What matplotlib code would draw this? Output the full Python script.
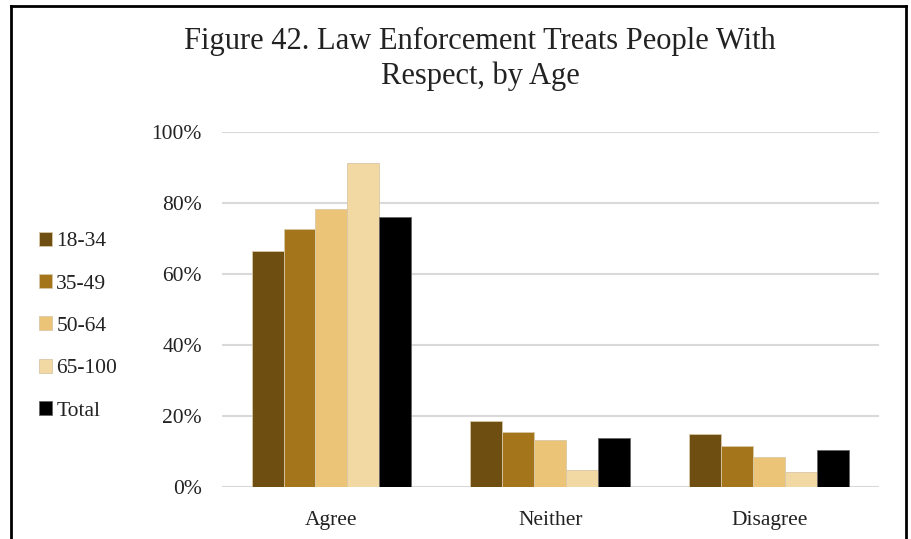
import matplotlib
matplotlib.use("Agg")
import matplotlib.pyplot as plt
import numpy as np

categories = ["Agree", "Neither", "Disagree"]
series_names = ["18-34", "35-49", "50-64", "65-100", "Total"]
v_18_34 = [66.5, 18.5, 14.9]
v_35_49 = [72.7, 15.6, 11.6]
v_50_64 = [78.3, 13.2, 8.4]
v_65_100 = [91.3, 4.7, 4.2]
v_total = [76.1, 13.7, 10.3]
series_values = [v_18_34, v_35_49, v_50_64, v_65_100, v_total]
colors = ["#6F4E11", "#A5751B", "#EBC477", "#F2D9A4", "#000000"]
yticks = [0, 20, 40, 60, 80, 100]
ytick_labels = ["0%", "20%", "40%", "60%", "80%", "100%"]
title_lines = ["Figure 42. Law Enforcement Treats People With", "Respect, by Age"]

plt.rcParams['font.family'] = ['Liberation Serif', 'DejaVu Serif']

fig = plt.figure(figsize=(9.12, 5.39), dpi=100)
ax = fig.add_axes([222/912, 1-487/539, (878.7-222)/912, (487-132)/539])

x = np.arange(len(categories))
bw = 0.146
for i, (name, vals, c) in enumerate(zip(series_names, series_values, colors)):
    ax.bar(x + (i - 2) * bw, vals, width=bw, color=c, label=name,
           edgecolor="#D8C8A8" if c != "#000000" else "#666666", linewidth=0.6, zorder=3)

fs = 15.5
ax.set_xlim(-0.5, 2.5)
ax.set_ylim(0, 100)
ax.set_yticks(yticks)
ax.set_yticklabels(ytick_labels, fontsize=fs, color="#222222")
ax.set_xticks(x)
ax.set_xticklabels(categories, fontsize=fs, color="#222222")
ax.tick_params(axis='both', length=0)
ax.tick_params(axis='y', pad=14.5)
ax.tick_params(axis='x', pad=17)
ax.grid(axis='y', color="#D9D9D9", linewidth=1.5, zorder=0)
ax.set_axisbelow(True)
for s in ax.spines.values():
    s.set_visible(False)

fig.text(480/912, 1-41/539, title_lines[0], ha='center', va='center', fontsize=22, color="#222222")
fig.text(480/912, 1-76/539, title_lines[1], ha='center', va='center', fontsize=22, color="#222222")

leg = fig.legend(loc='upper left', bbox_to_anchor=(30/912, 1-223/539), frameon=False,
                 fontsize=fs, handlelength=0.62, handleheight=0.62, handletextpad=0.2,
                 labelspacing=1.06, borderaxespad=0)
for t in leg.get_texts():
    t.set_color("#222222")

# outer frame
fig.add_artist(plt.Line2D([11/912, 11/912], [0, 1-6/539], transform=fig.transFigure, color='black', linewidth=2))
fig.add_artist(plt.Line2D([906/912, 906/912], [0, 1-6/539], transform=fig.transFigure, color='black', linewidth=2))
fig.add_artist(plt.Line2D([11/912, 906/912], [1-6/539, 1-6/539], transform=fig.transFigure, color='black', linewidth=2))

fig.savefig("out.png", dpi=100)
